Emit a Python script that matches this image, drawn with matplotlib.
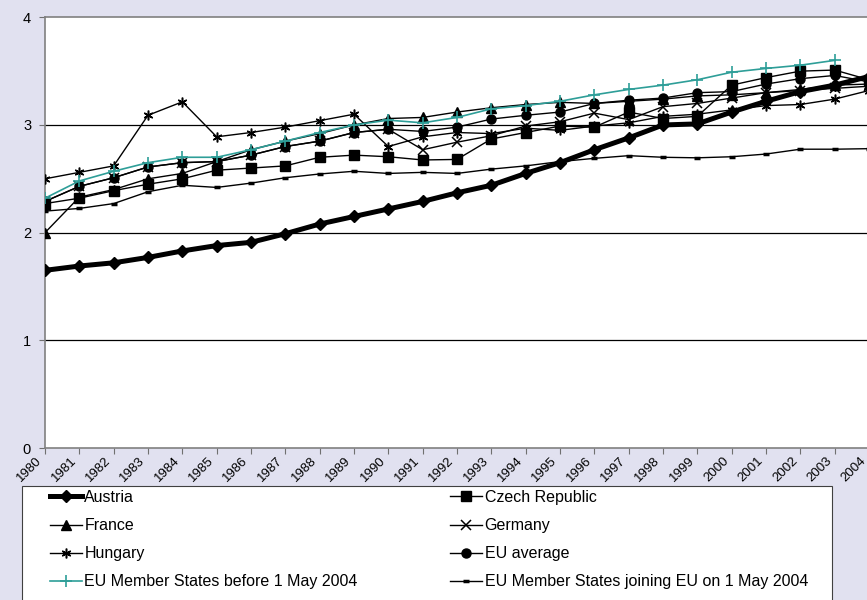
import matplotlib
matplotlib.use("Agg")
import matplotlib.pyplot as plt
import matplotlib.transforms as mtransforms
from matplotlib.patches import Rectangle
import numpy as np

plt.rcParams["font.family"] = ["Liberation Sans", "DejaVu Sans"]

# ────────────────────────────────────────────────────────────────────
#  数据
# ────────────────────────────────────────────────────────────────────
years = list(range(1980, 2005))

austria = [1.65, 1.69, 1.72, 1.77, 1.83, 1.88, 1.91, 1.99, 2.08, 2.15,
           2.22, 2.29, 2.37, 2.44, 2.55, 2.65, 2.77, 2.88, 3.00, 3.01,
           3.12, 3.22, 3.31, 3.37, 3.45]
czech = [2.27, 2.32, 2.39, 2.45, 2.50, 2.58, 2.60, 2.62, 2.70, 2.72,
         2.705, 2.675, 2.68, 2.87, 2.93, 2.99, 2.98, 3.12, 3.06, 3.08,
         3.37, 3.44, 3.50, 3.51, 3.42]
france = [2.00, 2.33, 2.40, 2.50, 2.55, 2.66, 2.77, 2.85, 2.92, 3.00,
          3.06, 3.07, 3.12, 3.16, 3.19, 3.21, 3.20, 3.22, 3.24, 3.27,
          3.28, 3.30, 3.33, 3.37, 3.38]
germany = [2.29, 2.43, 2.51, 2.61, 2.65, 2.66, 2.72, 2.80, 2.85, 2.93,
           2.96, 2.77, 2.84, 2.90, 2.99, 3.03, 3.11, 3.05, 3.17, 3.20,
           3.25, 3.30, 3.32, 3.34, 3.36]
hungary = [2.50, 2.56, 2.62, 3.09, 3.215, 2.89, 2.93, 2.98, 3.04, 3.10,
           2.80, 2.89, 2.93, 2.92, 2.97, 2.95, 2.99, 3.02, 3.08, 3.10,
           3.14, 3.18, 3.19, 3.24, 3.32]
eu_avg = [2.29, 2.43, 2.51, 2.61, 2.65, 2.66, 2.72, 2.80, 2.85, 2.93,
          2.96, 2.94, 2.98, 3.055, 3.09, 3.12, 3.20, 3.23, 3.25, 3.30,
          3.31, 3.38, 3.43, 3.46, 3.40]
eu15 = [2.32, 2.48, 2.57, 2.65, 2.70, 2.70, 2.77, 2.85, 2.93, 3.00,
        3.045, 3.02, 3.07, 3.15, 3.18, 3.22, 3.28, 3.33, 3.37, 3.42,
        3.49, 3.525, 3.555, 3.60, np.nan]
joining = [2.20, 2.225, 2.27, 2.38, 2.44, 2.42, 2.46, 2.51, 2.545, 2.57,
           2.55, 2.56, 2.55, 2.59, 2.62, 2.66, 2.69, 2.715, 2.70, 2.695,
           2.705, 2.73, 2.775, 2.775, 2.78]

TEAL = "#2e9e98"
BG = "#e1e1f0"
W, H = 867, 600

fig = plt.figure(figsize=(W / 100, H / 100), dpi=100, facecolor=BG)
ax = fig.add_axes([45 / W, 1 - 448 / H, 824 / W, 430.7 / H])
ax.set_facecolor("white")

# 网格线 1/2/3
for v in (1, 2, 3):
    ax.axhline(v, color="black", lw=0.9, zorder=1)

common = dict(color="black", lw=1.0, zorder=3)
l_aut, = ax.plot(years, austria, color="black", lw=3.6, marker="D", ms=6.5, zorder=5,
                 label="Austria")
l_cze, = ax.plot(years, czech, marker="s", ms=7, label="Czech Republic", **common)
l_fra, = ax.plot(years, france, marker="^", ms=7, label="France", **common)
l_ger, = ax.plot(years, germany, marker="x", ms=6.5, mew=1.1, label="Germany", **common)
l_hun, = ax.plot(years, hungary, marker=(6, 2, 0), ms=7, mew=1.1, label="Hungary", **common)
l_avg, = ax.plot(years, eu_avg, marker="o", ms=6.5, label="EU average", **common)
l_e15, = ax.plot(years, eu15, color=TEAL, lw=1.2, marker="+", ms=8, mew=1.2, zorder=4,
                 label="EU Member States before 1 May 2004")
l_joi, = ax.plot(years, joining, marker="_", ms=5, mew=2.5,
                 label="EU Member States joining EU on 1 May 2004", **common)

ax.set_xlim(1980, 2004)
ax.set_ylim(0, 4)
ax.set_yticks([0, 1, 2, 3, 4])
ax.set_xticks(years)
ax.tick_params(axis="y", labelsize=10.5, length=4, color="#707070", pad=6)
ax.tick_params(axis="x", length=4, color="#707070", labelbottom=False)
for side in ("left", "bottom", "top"):
    ax.spines[side].set_color("#808080")
    ax.spines[side].set_linewidth(1.2)
ax.spines["right"].set_visible(False)

# 年份标签：45° 旋转，略向左偏移，让 2004 完整显示
lab_trans = (mtransforms.blended_transform_factory(ax.transData, ax.transAxes)
             + mtransforms.ScaledTranslation(-9 / 100, -7 / 100, fig.dpi_scale_trans))
for y in years:
    ax.text(y, 0, str(y), transform=lab_trans, rotation=45, ha="right", va="top",
            rotation_mode="anchor", fontsize=9.5, clip_on=False)

# 图例框（底边在画面之外）
fig.patches.append(Rectangle((22 / W, -0.05), 810 / W, 0.05 + 1 - 486 / H,
                             transform=fig.transFigure, facecolor="white",
                             edgecolor="#404040", lw=0.8, zorder=0))

# 图例：两列，按行排列
handles = [l_aut, l_fra, l_hun, l_e15, l_cze, l_ger, l_avg, l_joi]
leg = fig.legend(handles=handles, labels=[h.get_label() for h in handles],
                 ncol=2, loc="upper left",
                 bbox_to_anchor=(50 / W, 1 - 490 / H, 758 / W, 0),
                 mode="expand", fontsize=11.5, frameon=False,
                 handlelength=2.0, handletextpad=0.15, labelspacing=0.82,
                 borderaxespad=0, borderpad=0)

fig.savefig("out.png", dpi=100, facecolor=BG)
